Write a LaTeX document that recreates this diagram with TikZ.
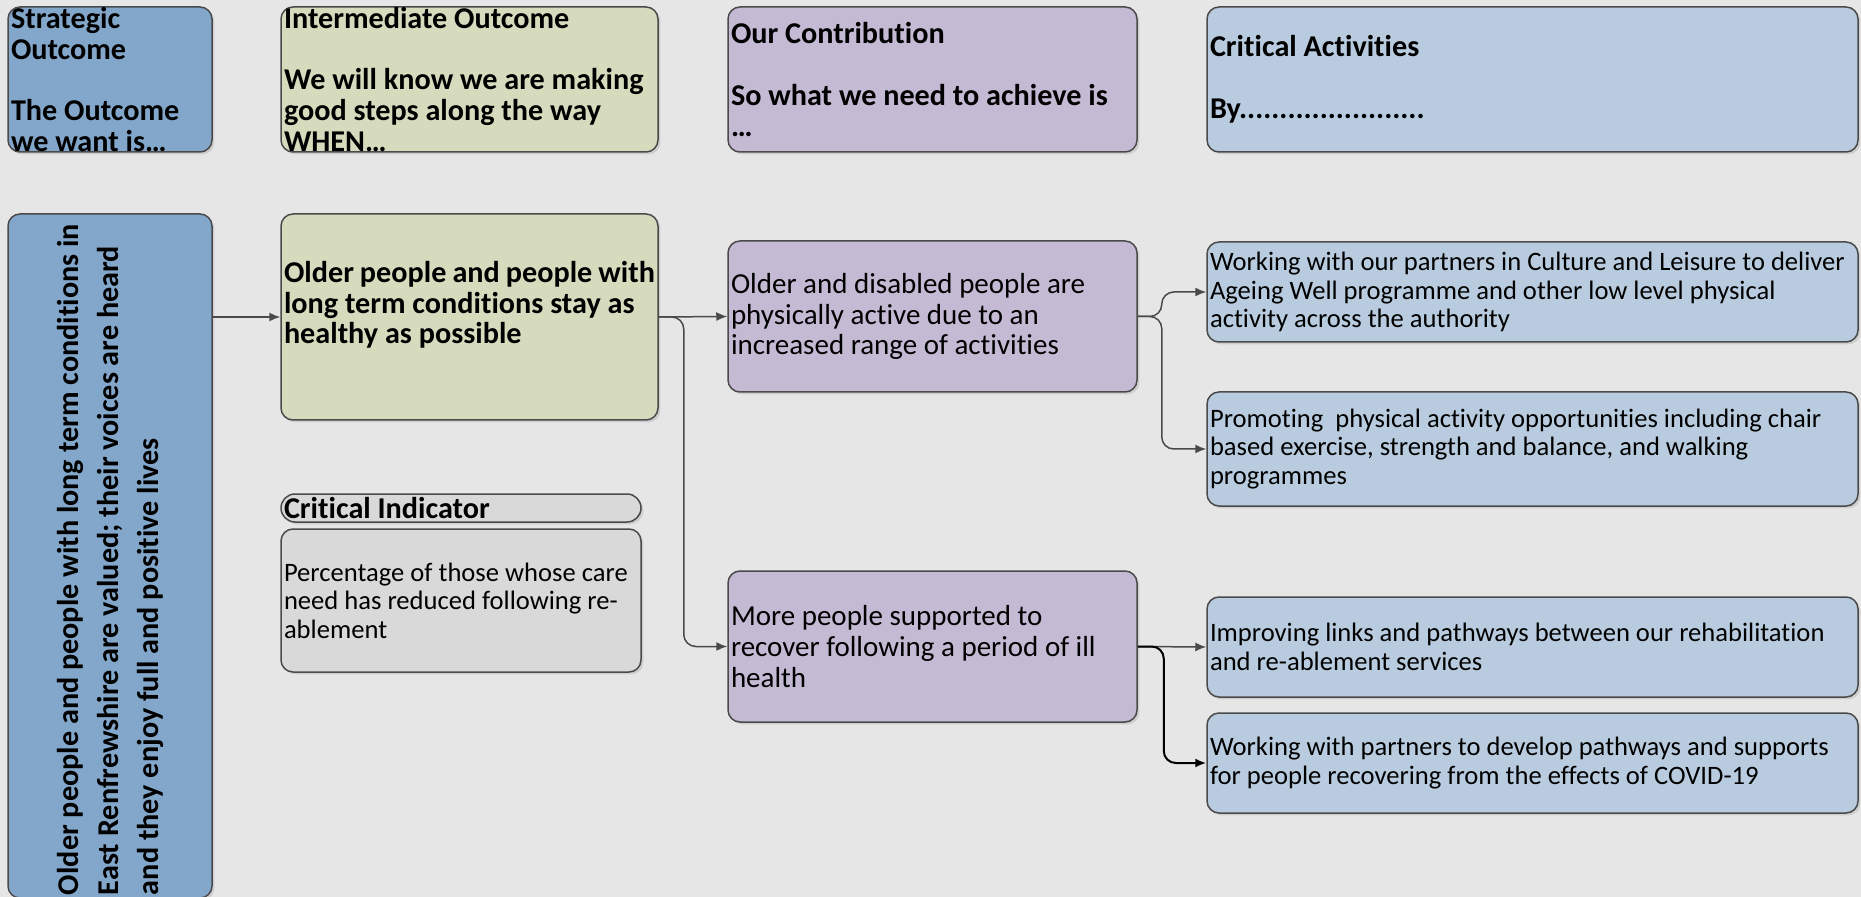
\documentclass[tikz,border=0pt]{standalone}
\usepackage{fontspec}
\setmainfont{Carlito}[Ligatures=NoCommon]
\usetikzlibrary{arrows.meta,shadows}

\definecolor{bggrey}{HTML}{E6E6E6}
\definecolor{edgegrey}{HTML}{4A4A4A}
\definecolor{stratblue}{HTML}{83A7CB}
\definecolor{intergreen}{HTML}{D6DBBE}
\definecolor{contribpurple}{HTML}{C4BAD4}
\definecolor{actblue}{HTML}{B9CCDF}
\definecolor{cigrey}{HTML}{D9D9D9}

\newcommand{\hfont}{\bfseries\fontsize{15.1}{15.4}\selectfont}
\newcommand{\bfont}{\fontsize{14.5}{15.4}\selectfont}
\newcommand{\afont}{\fontsize{13.3}{14.3}\selectfont}

\begin{document}
\begin{tikzpicture}[
  x=0.5pt, y=-0.5pt,
  card/.style={draw=edgegrey, line width=0.75pt, rounded corners=6pt,
    inner xsep=1.5pt, inner ysep=0pt, align=flush left,
    drop shadow={shadow xshift=1.2pt, shadow yshift=-1.2pt, opacity=0.10, fill=black}},
  header/.style={card, minimum height=72.5pt, font=\hfont},
  actbox/.style={card, fill=actblue, minimum width=325.5pt, text width=322.5pt, font=\afont},
  contrib/.style={card, fill=contribpurple, minimum width=204.5pt, text width=201.5pt,
    minimum height=75.5pt, font=\bfont},
  link/.style={draw=edgegrey, line width=0.75pt, -{Latex[length=5.5pt,width=4.5pt]}},
]
  \useasboundingbox (0,0) rectangle (1861,897);
  \fill[bggrey] (0,0) rectangle (1861,897);

  % column headers
  \node[header, fill=stratblue, minimum width=102pt, text width=99pt] (hstrat) at (110,79.5)
    {Strategic\\Outcome\\[15.4pt]The Outcome\\we want is\dots};
  \node[header, fill=intergreen, minimum width=188.5pt, text width=185.5pt] (hinter) at (469.5,79.5)
    {Intermediate Outcome\\[15.4pt]We will know we are making\\good steps along the way\\WHEN\dots};
  \node[header, fill=contribpurple, minimum width=204.5pt, text width=201.5pt] (hcontrib) at (932.5,79.5)
    {Our Contribution\\[15.4pt]So what we need to achieve is\\\dots};
  \node[header, fill=actblue, minimum width=325.5pt, text width=322.5pt] (hact) at (1532.5,79.5)
    {Critical Activities\\[15.4pt]By.......................};

  % outcomes
  \node[card, fill=stratblue, rotate=90, minimum width=342pt, minimum height=102pt, text width=339pt,
    font=\bfseries\fontsize{15.1}{20}\selectfont] (strat) at (110,556)
    {Older people and people with long term conditions in\\East Renfrewshire are valued; their voices are heard\\and they enjoy full and positive lives};
  \node[card, fill=intergreen, minimum width=188.5pt, text width=185.5pt, minimum height=103pt,
    font=\hfont] (green) at (469.5,317)
    {Older people and people with\\long term conditions stay as\\healthy as possible\\[-1pt]\mbox{}};

  % critical indicator
  \node[card, fill=cigrey, rounded corners=7pt, minimum width=180pt, text width=177pt,
    minimum height=14pt, font=\hfont] (cihead) at (461,508) {Critical Indicator};
  \node[card, fill=cigrey, minimum width=180pt, text width=177pt, minimum height=71.5pt,
    font=\fontsize{13.3}{14.25}\selectfont] (cibody) at (461,600.5)
    {Percentage of those whose care\\need has reduced following re-\\ablement};

  % contributions
  \node[contrib] (p1) at (932.5,316.5)
    {Older and disabled people are\\physically active due to an\\increased range of activities};
  \node[contrib] (p2) at (932.5,646.5)
    {More people supported to\\recover following a period of ill\\health};

  % activities
  \node[actbox, minimum height=50pt] (a1) at (1532.5,292)
    {Working with our partners in Culture and Leisure to deliver\\Ageing Well programme and other low level physical\\activity across the authority};
  \node[actbox, minimum height=57pt] (a2) at (1532.5,449)
    {Promoting\ \ physical activity opportunities including chair\\based exercise, strength and balance, and walking\\programmes};
  \node[actbox, minimum height=50pt] (a3) at (1532.5,647)
    {Improving links and pathways between our rehabilitation\\and re-ablement services};
  \node[actbox, minimum height=50pt] (a4) at (1532.5,763)
    {Working with partners to develop pathways and supports\\for people recovering from the effects of COVID-19};

  % connectors
  \draw[link] (strat.south |- green.west) -- (green.west);
  \draw[link] (green.east) -- (p1.west);
  \draw[link, rounded corners=6pt] (green.east) -- ++(25,0) |- (p2.west);
  \draw[link, rounded corners=6pt] (p1.east) -- ++(24,0) |- (a1.west);
  \draw[link, rounded corners=6pt] (p1.east) -- ++(24,0) |- (a2.west);
  \draw[link] (p2.east) -- (a3.west);
  \draw[link, draw=black, line width=1pt, rounded corners=6pt] (p2.east) -- ++(26,0) |- (a4.west);
\end{tikzpicture}
\end{document}
